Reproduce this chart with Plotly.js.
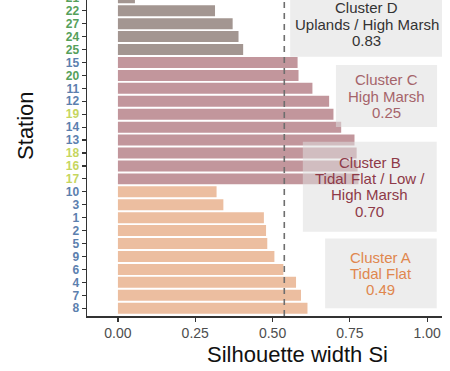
<!DOCTYPE html>
<html>
<head>
<meta charset="utf-8">
<script src="https://cdn.plot.ly/plotly-3.0.1.min.js"></script>
<style>
  html, body { margin: 0; padding: 0; overflow: hidden; background: #ffffff; }
  #chart { position: absolute; left: 0; top: -30px; width: 450px; height: 401px; }
</style>
</head>
<body>
<div id="chart"></div>
<script>
// Stations, bottom to top, with their silhouette widths
const stations = ['8','7','4','6','9','5','2','1','3','10',
                  '17','16','18','13','14','19','12','11','20','15',
                  '25','24','27','22','21'];
const silWidth = [0.613,0.592,0.576,0.535,0.506,0.483,0.479,0.472,0.341,0.319,
                  0.778,0.775,0.772,0.765,0.722,0.697,0.683,0.629,0.584,0.581,
                  0.405,0.390,0.371,0.314,0.055];
const barGroup = ['A','A','A','A','A','A','A','A','A','A',
                  'B','B','B','B','B','B','B','B','B','B',
                  'D','D','D','D','D'];
// Habitat class of each station (colours the tick labels)
const habitat = ['tf','tf','tf','tf','tf','tf','tf','tf','tf','tf',
                 'hm','hm','hm','tf','tf','hm','tf','tf','up','tf',
                 'up','up','up','up','up'];

// Cluster summaries shown in the side boxes
const clusterNames = ['Cluster D', 'Cluster C', 'Cluster B', 'Cluster A'];
const clusterZones = [['Uplands / High Marsh'], ['High Marsh'], ['Tidal Flat / Low /', 'High Marsh'], ['Tidal Flat']];
const clusterAvg   = [0.83, 0.25, 0.70, 0.49];

// Overall mean silhouette width
const meanWidth = 0.538;

const barColors = { A: '#ECBEA0', B: '#C2969C', D: '#A39691' };
const labelColors = { tf: '#5C80AE', hm: '#C6D65E', up: '#55A05A' };
const boxTextColors = ['#333333', '#A5646A', '#8E3A48', '#E0874E'];

const idx = stations.map((s, i) => i);

const trace = {
  type: 'bar',
  orientation: 'h',
  x: silWidth,
  y: idx,
  marker: { color: barGroup.map(g => barColors[g]), line: { width: 0 } },
  width: 0.85,
  hoverinfo: 'x+text',
  text: stations,
  textposition: 'none'
};

const FONT = 'Liberation Sans, Arial, Helvetica, sans-serif';

// Side boxes (data units): [x0, x1, y0, y1]
const boxes = [
  [0.557, 1.051, 19.44, 24.49],
  [0.705, 1.032, 14.01, 18.80],
  [0.598, 1.031, 5.91, 12.87],
  [0.670, 1.031, -0.005, 5.40]
];
const LINE_PX = 16.2;

const shapes = boxes.map(b => ({
  type: 'rect', xref: 'x', yref: 'y', layer: 'above',
  x0: b[0], x1: b[1], y0: b[2], y1: b[3],
  fillcolor: 'rgba(222,222,222,0.55)', line: { width: 0 }
}));

shapes.push({
  type: 'line', xref: 'x', yref: 'paper', layer: 'above',
  x0: meanWidth, x1: meanWidth, y0: 0, y1: 1,
  line: { color: '#6E6E6E', width: 1.6, dash: '6px,5px' }
});

const annotations = [];
clusterNames.forEach((name, k) => {
  const lines = [name].concat(clusterZones[k], [clusterAvg[k].toFixed(2)]);
  const b = boxes[k];
  const cx = (b[0] + b[1]) / 2, cy = (b[2] + b[3]) / 2;
  const n = lines.length;
  lines.forEach((txt, i) => {
    annotations.push({
      xref: 'x', yref: 'y', x: cx, y: cy,
      xanchor: 'center', yanchor: 'middle',
      yshift: -(i - (n - 1) / 2) * LINE_PX,
      text: txt, showarrow: false,
      font: { family: FONT, size: 15, color: boxTextColors[k] }
    });
  });
});

annotations.push({
  xref: 'paper', yref: 'paper', x: -0.172, y: 0.586,
  xanchor: 'center', yanchor: 'middle', textangle: -90,
  text: 'Station', showarrow: false,
  font: { family: FONT, size: 22, color: '#111111' }
});
annotations.push({
  xref: 'paper', yref: 'paper', x: 0.594, y: -0.118,
  xanchor: 'center', yanchor: 'middle',
  text: 'Silhouette width Si', showarrow: false,
  font: { family: FONT, size: 22, color: '#111111' }
});

const layout = {
  width: 450, height: 401,
  margin: { l: 87, r: 8, t: 20, b: 55 },
  paper_bgcolor: '#ffffff', plot_bgcolor: '#ffffff',
  showlegend: false,
  bargap: 0.15,
  xaxis: {
    range: [-0.1, 1.048],
    tickvals: [0, 0.25, 0.5, 0.75, 1.0],
    ticktext: ['0.00', '0.25', '0.50', '0.75', '1.00'],
    showgrid: false, zeroline: false,
    showline: true, linecolor: '#333333', linewidth: 1.5,
    ticks: 'outside', ticklen: 4, tickwidth: 1.2, tickcolor: '#333333',
    tickfont: { family: FONT, size: 14, color: '#4D4D4D' }
  },
  yaxis: {
    range: [-0.6, 24.6],
    tickvals: idx,
    ticktext: stations.map((s, i) => '<span style="color:' + labelColors[habitat[i]] + '">' + s + '</span>'),
    showgrid: false, zeroline: false,
    showline: true, linecolor: '#333333', linewidth: 1.5,
    ticks: 'outside', ticklen: 4, tickwidth: 1.2, tickcolor: '#333333',
    tickfont: { family: FONT, size: 12, color: '#5C80AE', weight: 'bold' }
  },
  shapes: shapes,
  annotations: annotations
};

Plotly.newPlot('chart', [trace], layout, { staticPlot: true, displayModeBar: false });
</script>
</body>
</html>
